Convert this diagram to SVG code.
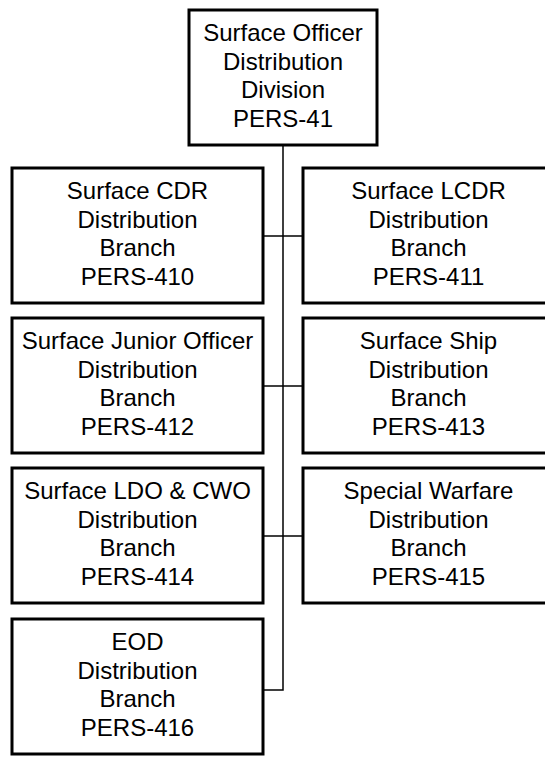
<svg xmlns="http://www.w3.org/2000/svg" width="545" height="758" viewBox="0 0 545 758">
<style>
.box{fill:#fff;stroke:#000;stroke-width:3}
.t{font-family:"Liberation Sans",Arial,sans-serif;font-size:24px;fill:#000;text-anchor:middle}
.c{stroke:#000;stroke-width:1.5;fill:none}
</style>
<rect width="545" height="758" fill="#fff"/>
<g id="connectors">
<path class="c" d="M283,145 V690 H263"/>
<path class="c" d="M263,236 H303"/>
<path class="c" d="M263,386 H303"/>
<path class="c" d="M263,536 H303"/>
</g>
<g id="n41">
<rect class="box" x="189" y="10" width="188" height="135"/>
<text class="t" x="283"><tspan x="283" y="41">Surface Officer</tspan><tspan x="283" y="69.5">Distribution</tspan><tspan x="283" y="98">Division</tspan><tspan x="283" y="126.5">PERS-41</tspan></text>
</g>
<g id="n410">
<rect class="box" x="12" y="168" width="251" height="135"/>
<text class="t"><tspan x="137.5" y="199">Surface CDR</tspan><tspan x="137.5" y="227.5">Distribution</tspan><tspan x="137.5" y="256">Branch</tspan><tspan x="137.5" y="284.5">PERS-410</tspan></text>
</g>
<g id="n411">
<rect class="box" x="303" y="168" width="251" height="135"/>
<text class="t"><tspan x="428.5" y="199">Surface LCDR</tspan><tspan x="428.5" y="227.5">Distribution</tspan><tspan x="428.5" y="256">Branch</tspan><tspan x="428.5" y="284.5">PERS-411</tspan></text>
</g>
<g id="n412">
<rect class="box" x="12" y="318" width="251" height="135"/>
<text class="t"><tspan x="137.5" y="349">Surface Junior Officer</tspan><tspan x="137.5" y="377.5">Distribution</tspan><tspan x="137.5" y="406">Branch</tspan><tspan x="137.5" y="434.5">PERS-412</tspan></text>
</g>
<g id="n413">
<rect class="box" x="303" y="318" width="251" height="135"/>
<text class="t"><tspan x="428.5" y="349">Surface Ship</tspan><tspan x="428.5" y="377.5">Distribution</tspan><tspan x="428.5" y="406">Branch</tspan><tspan x="428.5" y="434.5">PERS-413</tspan></text>
</g>
<g id="n414">
<rect class="box" x="12" y="468" width="251" height="135"/>
<text class="t"><tspan x="137.5" y="499">Surface LDO &amp; CWO</tspan><tspan x="137.5" y="527.5">Distribution</tspan><tspan x="137.5" y="556">Branch</tspan><tspan x="137.5" y="584.5">PERS-414</tspan></text>
</g>
<g id="n415">
<rect class="box" x="303" y="468" width="251" height="135"/>
<text class="t"><tspan x="428.5" y="499">Special Warfare</tspan><tspan x="428.5" y="527.5">Distribution</tspan><tspan x="428.5" y="556">Branch</tspan><tspan x="428.5" y="584.5">PERS-415</tspan></text>
</g>
<g id="n416">
<rect class="box" x="12" y="619" width="251" height="135"/>
<text class="t"><tspan x="137.5" y="650">EOD</tspan><tspan x="137.5" y="678.5">Distribution</tspan><tspan x="137.5" y="707">Branch</tspan><tspan x="137.5" y="735.5">PERS-416</tspan></text>
</g>
</svg>
